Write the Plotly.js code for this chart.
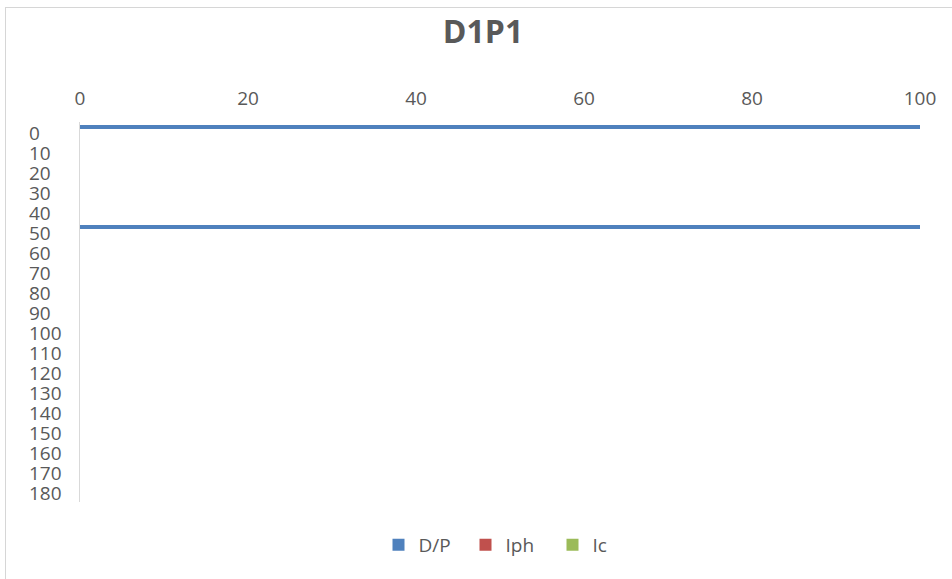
<!DOCTYPE html>
<html>
<head>
<meta charset="utf-8">
<script src="https://cdn.plot.ly/plotly-3.0.1.min.js"></script>
<style>
  html, body { margin: 0; padding: 0; background: #ffffff; }
  #wrap { position: relative; width: 952px; height: 579px; overflow: hidden; }
  #chart { position: absolute; left: 0; top: 0; width: 952px; height: 579px; }
  .edge { position: absolute; background: #d6d6d6; pointer-events: none; }
  #edgeTop { left: 5px; top: 7px; width: 947px; height: 1px; }
  #edgeLeft { left: 5px; top: 7px; width: 1px; height: 572px; }
</style>
</head>
<body>
<div id="wrap">
  <div id="chart"></div>
  <div class="edge" id="edgeTop"></div>
  <div class="edge" id="edgeLeft"></div>
</div>
<script>
// Series names and values (depth on the reversed vertical axis, magnitude along the top axis)
const seriesNames = ["D/P", "Iph", "Ic"];
const dpDepth = [-3, 47];
const dpValue = [100, 100];
// Iph and Ic carry no plotted readings, only their legend entries
const iphDepth = [null];
const iphValue = [null];
const icDepth = [null];
const icValue = [null];

const xTickValues = [0, 20, 40, 60, 80, 100];
const yTickValues = [0, 10, 20, 30, 40, 50, 60, 70, 80, 90, 100, 110, 120, 130, 140, 150, 160, 170, 180];

const seriesColors = ["#4F81BD", "#C0504D", "#9BBB59"];
const textColor = "#595959";
const fontFamily = "'Open Sans', 'Liberation Sans', sans-serif";

const W = 952, H = 579;
const marginL = 28, marginR = 32, marginT = 122, marginB = 77;
const plotW = W - marginL - marginR;
const axisLeftPx = 80;
const domainStart = (axisLeftPx - marginL) / plotW;
const yRange = [184.5, -5.5];

function barTrace(name, depth, value, color) {
  return {
    type: "bar",
    orientation: "h",
    name: name,
    y: depth,
    x: value,
    base: 0,
    width: 2,
    marker: { color: color, line: { width: 0 } },
    xaxis: "x",
    yaxis: "y",
    hoverinfo: "x+y+name"
  };
}

const data = [
  barTrace(seriesNames[0], dpDepth, dpValue, seriesColors[0]),
  barTrace(seriesNames[1], iphDepth, iphValue, seriesColors[1]),
  barTrace(seriesNames[2], icDepth, icValue, seriesColors[2])
];

// Empty scatter on the label axis so it is laid out with the same range
data.push({
  type: "scatter",
  x: [null],
  y: [null],
  yaxis: "y2",
  xaxis: "x",
  showlegend: false,
  hoverinfo: "skip"
});

const layout = {
  width: W,
  height: H,
  margin: { l: marginL, r: marginR, t: marginT, b: marginB, pad: 0 },
  paper_bgcolor: "#ffffff",
  plot_bgcolor: "#ffffff",
  font: { family: fontFamily, color: textColor, size: 19 },
  title: {
    text: "<b>D1P1</b>",
    font: { family: fontFamily, size: 32, color: textColor },
    x: 483 / W,
    xref: "container",
    xanchor: "center",
    y: 1 - 32 / H,
    yref: "container",
    yanchor: "middle"
  },
  barmode: "overlay",
  showlegend: true,
  legend: {
    orientation: "h",
    x: (509 - marginL) / plotW,
    xanchor: "center",
    y: -(545 - (H - marginB)) / (H - marginT - marginB),
    yanchor: "middle",
    font: { family: fontFamily, size: 19, color: textColor },
    traceorder: "normal",
    entrywidth: 42,
    entrywidthmode: "pixels",
    itemwidth: 30,
    itemclick: false
  },
  xaxis: {
    domain: [domainStart, 1],
    side: "top",
    range: [0, 100],
    tickmode: "array",
    tickvals: xTickValues,
    ticks: "",
    ticklabelstandoff: 12,
    showgrid: false,
    zeroline: false,
    showline: false,
    tickfont: { family: fontFamily, size: 19, color: textColor },
    fixedrange: true
  },
  yaxis: {
    domain: [0, 1],
    anchor: "x",
    range: yRange,
    showticklabels: false,
    ticks: "",
    showgrid: false,
    zeroline: false,
    showline: true,
    linecolor: "#d9d9d9",
    linewidth: 1.5,
    fixedrange: true
  },
  yaxis2: {
    overlaying: "y",
    anchor: "free",
    position: 0,
    side: "right",
    range: yRange,
    tickmode: "array",
    tickvals: yTickValues,
    ticks: "",
    showgrid: false,
    zeroline: false,
    showline: false,
    tickfont: { family: fontFamily, size: 19, color: textColor },
    fixedrange: true
  }
};

Plotly.newPlot("chart", data, layout, { displayModeBar: false, staticPlot: true });
</script>
</body>
</html>
